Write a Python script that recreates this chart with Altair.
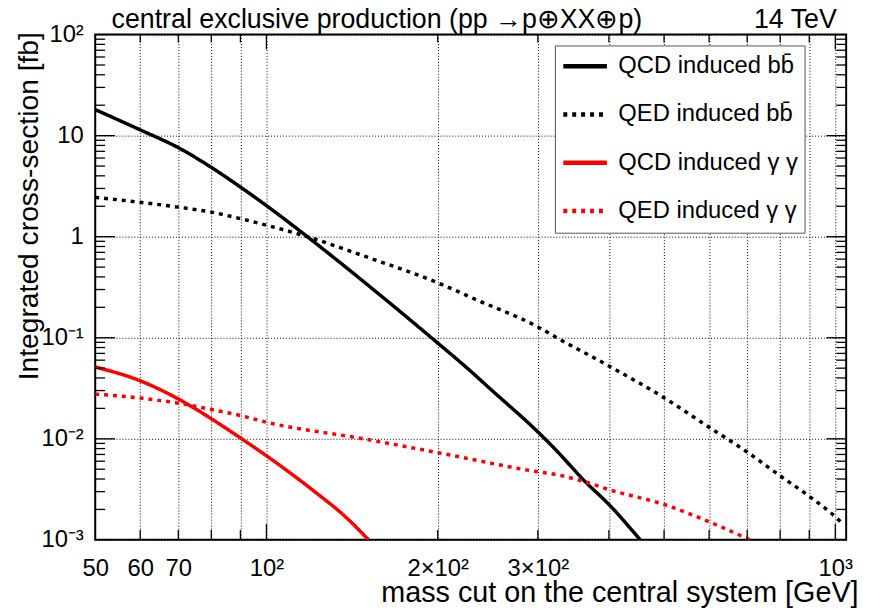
import altair as alt
import pandas as pd

FONT = "Liberation Sans"

series_names = [
    "QCD induced bb\u0304",
    "QED induced bb\u0304",
    "QCD induced \u03b3 \u03b3",
    "QED induced \u03b3 \u03b3",
]
series_colors = ["#000000", "#000000", "#ff0000", "#ff0000"]
series_dashes = [[1, 0], [4, 5], [1, 0], [4, 5]]

# ---- data (mass cut [GeV], integrated cross-section [fb]) ----
qcd_bb_mass = [50, 60, 70, 80, 90, 100, 118, 150, 195, 227, 250, 300, 321, 364, 400, 454]
qcd_bb_xsec = [18.1, 11.4, 7.6, 4.85, 3.1, 2.03, 1.0, 0.34, 0.1, 0.0483, 0.0296, 0.0117,
               0.008, 0.00373, 0.00224, 0.001]

qed_bb_mass = [50, 60, 70, 80, 90, 100, 118, 150, 200, 233, 300, 325, 400, 500, 600, 700, 800,
               900, 1000, 1032]
qed_bb_xsec = [2.45, 2.19, 1.96, 1.75, 1.51, 1.3, 1.0, 0.63, 0.35, 0.24, 0.128, 0.099, 0.0526,
               0.0255, 0.013, 0.0074, 0.0043, 0.0027, 0.00169, 0.00143]

qcd_aa_mass = [50, 60, 70, 80, 90, 100, 122.6, 136.5, 151.2]
qcd_aa_xsec = [0.0514, 0.0375, 0.0248, 0.0158, 0.0102, 0.0068, 0.00289, 0.00177, 0.001]

qed_aa_mass = [50, 60, 70, 80, 90, 100, 148, 200, 300, 321, 364, 400, 500, 600, 708]
qed_aa_xsec = [0.0277, 0.0253, 0.0225, 0.0195, 0.017, 0.0146, 0.01, 0.0073, 0.00472, 0.00446,
               0.00373, 0.00314, 0.00224, 0.00151, 0.001]

# ---- axes ----
x_domain = [50, 1045]
y_domain = [0.001, 100]
x_grid_values = [50, 60, 70, 80, 90, 100, 200, 300, 400, 500, 600, 700, 800, 900, 1000]
x_label_values = [50, 60, 70, 100, 200, 300, 1000]
x_label_texts = ["50", "60", "70", "10\u00b2", "2\u00d710\u00b2", "3\u00d710\u00b2", "10\u00b3"]
x_major_ticks = [100, 1000]
x_minor_ticks = [60, 70, 80, 90, 200, 300, 400, 500, 600, 700, 800, 900]

y_label_values = [0.001, 0.01, 0.1, 1, 10, 100]
y_label_texts = ["10\u207b\u00b3", "10\u207b\u00b2", "10\u207b\u00b9", "1", "10", "10\u00b2"]
y_major_ticks = [0.01, 0.1, 1, 10]
y_minor_ticks = [m * d for d in [0.001, 0.01, 0.1, 1, 10] for m in range(2, 10)]


def label_expr(values, texts):
    expr = "''"
    for v, t in reversed(list(zip(values, texts))):
        expr = f"(abs(datum.value - {v}) < {v * 1e-3}) ? '{t}' : ({expr})"
    return expr


# one table: curve rows plus frame-tick rows (kind column tells them apart)
rows = []
for name, ms, xs in zip(series_names,
                        [qcd_bb_mass, qed_bb_mass, qcd_aa_mass, qed_aa_mass],
                        [qcd_bb_xsec, qed_bb_xsec, qcd_aa_xsec, qed_aa_xsec]):
    for m, s in zip(ms, xs):
        rows.append({"kind": "curve", "series": name, "mass": m, "xsec": s})
for v in y_minor_ticks:
    rows.append({"kind": "ytick_minor", "series": "", "mass": x_domain[0], "xsec": v})
for v in y_major_ticks:
    rows.append({"kind": "ytick_major", "series": "", "mass": x_domain[0], "xsec": v})
for v in x_minor_ticks:
    rows.append({"kind": "xtick_minor", "series": "", "mass": v, "xsec": y_domain[0]})
for v in x_major_ticks:
    rows.append({"kind": "xtick_major", "series": "", "mass": v, "xsec": y_domain[0]})
df = pd.DataFrame(rows)

x_scale = alt.Scale(type="log", domain=x_domain, nice=False)
y_scale = alt.Scale(type="log", domain=y_domain, nice=False)

base = alt.Chart(df)


def tstyle(size):
    return dict(titleFont=FONT, titleFontSize=size, titleFontWeight="normal", titleColor="black")


grid_style = dict(grid=True, gridColor="black", gridDash=[1, 2], gridWidth=1, gridOpacity=1)

main_x_axis = alt.Axis(
    orient="bottom", values=x_grid_values, labelExpr=label_expr(x_label_values, x_label_texts),
    ticks=False, domain=False, **grid_style,
    labelFont=FONT, labelFontSize=24, labelColor="black", labelPadding=36,
    labelBaseline="alphabetic", labelOverlap=False, labelFlush=False, labelBound=False,
    title="mass cut on the central system [GeV]", titleX=770, titleY=62,
    titleAlign="right", titleBaseline="alphabetic", **tstyle(29),
)
main_y_axis = alt.Axis(
    orient="left", values=y_label_values, labelExpr=label_expr(y_label_values, y_label_texts),
    ticks=False, domain=False, **grid_style,
    labelFont=FONT, labelFontSize=24, labelColor="black", labelPadding=12,
    labelBaseline="middle", labelOverlap=False, labelFlush=False, labelBound=False,
    title="Integrated cross-section [fb]", titleX=-58, titleY=-3, titleAngle=270,
    titleAlign="right", titleBaseline="alphabetic", **tstyle(28.5),
)

legend = alt.Legend(
    orient="none", legendX=464, legendY=11, direction="vertical",
    symbolType="stroke", symbolSize=1936, symbolStrokeWidth=4.5,
    labelFont=FONT, labelFontSize=24, labelColor="black", labelLimit=400, labelOffset=9,
    fillColor="white", strokeColor="#555555", padding=6, clipHeight=30, rowPadding=18.7,
)

lines = base.transform_filter(alt.datum.kind == "curve").mark_line(
    strokeWidth=3.5, clip=True, interpolate="monotone"
).encode(
    x=alt.X("mass:Q", scale=x_scale, axis=main_x_axis),
    y=alt.Y("xsec:Q", scale=y_scale, axis=main_y_axis),
    color=alt.Color("series:N", scale=alt.Scale(domain=series_names, range=series_colors),
                    legend=legend, title=None),
    strokeDash=alt.StrokeDash("series:N", scale=alt.Scale(domain=series_names, range=series_dashes),
                              legend=legend, title=None),
)


# frame ticks: position along the frame from the shared log scale, extent in pixels
def y_edge_ticks(kind, side, length):
    x0, x1 = (0, length) if side == "left" else (758 - length, 758)
    return base.transform_filter(alt.datum.kind == kind).mark_rule(
        color="black", strokeWidth=1.3
    ).encode(
        y=alt.Y("xsec:Q", scale=y_scale, axis=None),
        x=alt.value(x0), x2=alt.value(x1),
    )


def x_edge_ticks(kind, side, length):
    y0, y1 = (510 - length, 510) if side == "bottom" else (0, length)
    return base.transform_filter(alt.datum.kind == kind).mark_rule(
        color="black", strokeWidth=1.3
    ).encode(
        x=alt.X("mass:Q", scale=x_scale, axis=None),
        y=alt.value(y0), y2=alt.value(y1),
    )


ticks = [
    y_edge_ticks("ytick_minor", "left", 10),
    y_edge_ticks("ytick_major", "left", 20),
    y_edge_ticks("ytick_minor", "right", 10),
    y_edge_ticks("ytick_major", "right", 20),
    x_edge_ticks("xtick_minor", "bottom", 10),
    x_edge_ticks("xtick_major", "bottom", 16),
    x_edge_ticks("xtick_minor", "top", 8),
    x_edge_ticks("xtick_major", "top", 15),
]


def title_holder(text, tx, align):
    ax = alt.Axis(orient="top", ticks=False, labels=False, domain=False, grid=False,
                  title=text, titleX=tx, titleY=-7, titleAlign=align,
                  titleBaseline="alphabetic", **tstyle(27))
    return base.transform_filter(alt.datum.kind == "curve").mark_point(opacity=0).encode(
        x=alt.X("mass:Q", scale=x_scale, axis=ax),
        y=alt.Y("xsec:Q", scale=y_scale, axis=None),
    )


t1 = title_holder("central exclusive production (pp \u2192p\u2295XX\u2295p)", 16, "left")
t2 = title_holder("14 TeV", 748, "right")

chart = (
    alt.layer(lines, *ticks, t1, t2)
    .resolve_scale(x="shared", y="shared")
    .resolve_axis(x="independent", y="independent")
    .properties(
        width=758, height=510,
        autosize=alt.AutoSizeParams(type="none"),
        padding={"left": 88, "top": 24, "right": 18, "bottom": 70},
        background="white",
    )
    .configure_view(stroke="black", strokeWidth=2)
)

chart.save("out.html", embed_options={"renderer": "svg", "actions": False})
